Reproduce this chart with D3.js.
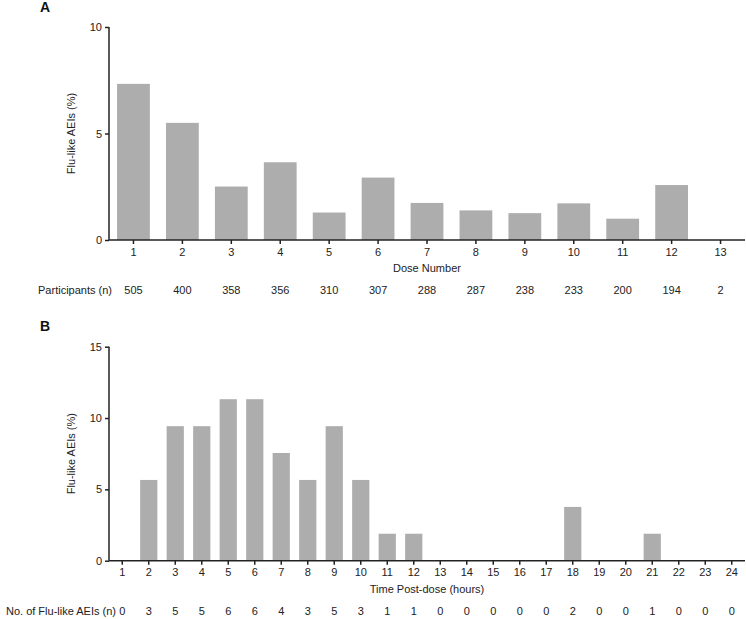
<!DOCTYPE html>
<html><head><meta charset="utf-8">
<script src="https://cdn.jsdelivr.net/npm/d3@7/dist/d3.min.js"></script>
<style>body{margin:0;background:#fff}svg{display:block}text{font-family:"Liberation Sans",Arial,sans-serif}</style>
</head><body><svg id="c" width="746" height="619"></svg>
<script>
const doseNumbers = ["1","2","3","4","5","6","7","8","9","10","11","12","13"];
const doseAEIPct = [7.33,5.50,2.51,3.65,1.29,2.93,1.74,1.39,1.26,1.72,1.00,2.58,0];
const participants = [505,400,358,356,310,307,288,287,238,233,200,194,2];
const yTicksA = [0,5,10];

const hours = ["1","2","3","4","5","6","7","8","9","10","11","12","13","14","15","16","17","18","19","20","21","22","23","24"];
const hourAEIPct = [0,5.66,9.43,9.43,11.32,11.32,7.55,5.66,9.43,5.66,1.89,1.89,0,0,0,0,0,3.77,0,0,1.89,0,0,0];
const hourAEICount = [0,3,5,5,6,6,4,3,5,3,1,1,0,0,0,0,0,2,0,0,1,0,0,0];
const yTicksB = [0,5,10,15];

const svg = d3.select("#c");
const axisColor = "#222";
const barColor = "#adadad";

function panel(cfg){
  const g = svg.append("g");
  const x = d3.scaleBand().domain(cfg.cats).range([109,745]).paddingInner(cfg.pad).paddingOuter(cfg.pad/2);
  const y = d3.scaleLinear().domain([0,cfg.ymax]).range([cfg.y0,cfg.y1]);
  g.selectAll("rect.bar").data(cfg.vals).join("rect").attr("class","bar")
    .attr("x",(d,i)=>x(cfg.cats[i])).attr("width",x.bandwidth())
    .attr("y",d=>y(d)).attr("height",d=>y(0)-y(d)).attr("fill",barColor);
  const ya = g.append("g").attr("transform","translate(109,0)")
    .call(d3.axisLeft(y).tickValues(cfg.yticks).tickSize(4).tickPadding(3));
  const xa = g.append("g").attr("transform",`translate(0,${cfg.y0})`)
    .call(d3.axisBottom(x).tickSize(4).tickPadding(4).tickSizeOuter(0));
  [ya,xa].forEach(a=>{
    a.selectAll("path,line").attr("stroke",axisColor).attr("stroke-width",1.5);
    a.selectAll("text").attr("fill","#222").style("font-size","11px").style("font-family","Liberation Sans, Arial, sans-serif");
  });
  ya.select(".domain").attr("d",`M0,${cfg.y1}V${cfg.y0}`);
  xa.select(".domain").attr("d",`M109,0H745`);
  g.append("text").attr("transform",`translate(75,${(cfg.y0+cfg.y1)/2}) rotate(-90)`)
    .attr("text-anchor","middle").style("font-size","11px").attr("fill","#222").text(cfg.ylabel);
  g.append("text").attr("x",427).attr("y",cfg.y0+32).attr("text-anchor","middle")
    .style("font-size","11px").attr("fill","#222").text(cfg.xlabel);
  g.append("text").attr("x",cfg.rowLabelEnd).attr("y",cfg.y0+54).attr("text-anchor","end")
    .style("font-size","11px").attr("fill","#222").text(cfg.rowLabel);
  g.selectAll("text.row").data(cfg.row).join("text").attr("class","row")
    .attr("x",(d,i)=>x(cfg.cats[i])+x.bandwidth()/2).attr("y",cfg.y0+54)
    .attr("text-anchor","middle").style("font-size","11px").attr("fill","#222").text(d=>d);
  g.append("text").attr("x",40).attr("y",cfg.letterY).style("font-size","14px").style("font-weight","bold")
    .attr("fill","#111").text(cfg.letter);
}

panel({cats:doseNumbers, vals:doseAEIPct, row:participants, yticks:yTicksA, ymax:10, y0:240, y1:27, pad:0.33,
  ylabel:"Flu-like AEIs (%)", xlabel:"Dose Number", rowLabel:"Participants (n)", rowLabelEnd:112, letter:"A", letterY:12});
panel({cats:hours, vals:hourAEIPct, row:hourAEICount, yticks:yTicksB, ymax:15, y0:560.7, y1:346.7, pad:0.35,
  ylabel:"Flu-like AEIs (%)", xlabel:"Time Post-dose (hours)", rowLabel:"No. of Flu-like AEIs (n)", rowLabelEnd:116, letter:"B", letterY:331});
</script></body></html>
